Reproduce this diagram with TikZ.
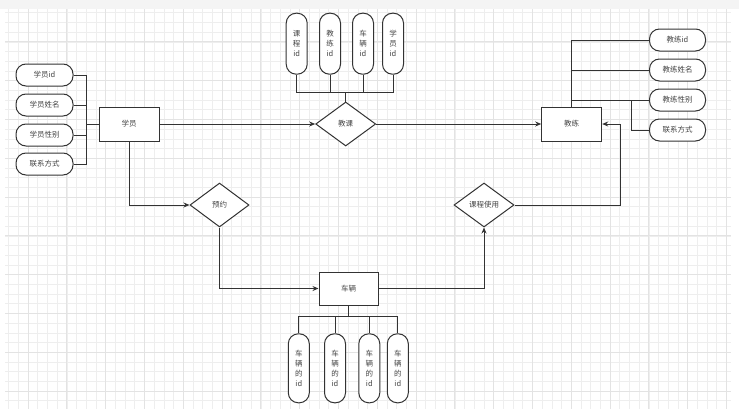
\documentclass[tikz,border=0pt]{standalone}
\usepackage{fontspec}
\setmainfont{Noto Sans CJK SC}
\usetikzlibrary{shapes.geometric,arrows.meta}
\definecolor{ln}{HTML}{333333}
\definecolor{tx}{HTML}{444444}
\definecolor{gmin}{HTML}{EEEEEE}
\definecolor{gmaj}{HTML}{E3E3E3}
\definecolor{band}{HTML}{F4F4F4}
\begin{document}
\begin{tikzpicture}[x=1pt,y=-1pt,
  font=\fontsize{7.5}{10}\selectfont,
  every node/.style={text=tx},
  base/.style={draw=ln,line width=1pt,fill=white,inner sep=0pt},
  attr/.style={base,rounded corners=10pt,minimum width=57pt,minimum height=22pt},
  vattr/.style={base,rounded corners=10pt,minimum width=21pt,align=center},
  entity/.style={base,minimum width=60pt,minimum height=34pt},
  rel/.style={base,diamond,minimum width=60pt,minimum height=44pt},
  conn/.style={draw=ln,line width=1pt},
  arr/.style={conn,-{Stealth[length=6pt,width=5pt]}}]
\useasboundingbox (0,0) rectangle (739,415);
\fill[white] (0,0) rectangle (739,415);
\fill[band] (0,0) rectangle (739,9);
% grid
\foreach \i [evaluate=\i as \x using 8.6+9.7*\i] in {0,...,74}
  \draw[gmin,line width=0.6pt] (\x,9) -- (\x,409);
\foreach \i [evaluate=\i as \y using 12.7+9.7*\i] in {0,...,40}
  \draw[gmin,line width=0.6pt] (5,\y) -- (731,\y);
\foreach \i [evaluate=\i as \x using 8.6+9.7*\i] in {2,6,...,74}
  \draw[gmaj,line width=0.7pt] (\x,9) -- (\x,409);
\foreach \i [evaluate=\i as \y using 12.7+9.7*\i] in {3,7,...,39}
  \draw[gmaj,line width=0.7pt] (5,\y) -- (731,\y);

% entities
\node[entity] (stu) at (129,124) {学员};
\node[entity] (coach) at (571.7,124) {教练};
\node[entity,minimum width=59pt,minimum height=33pt] (car) at (348.5,288.5) {车辆};
% relations
\node[rel,label=center:{教课}] (teach) at (345.7,124) {};
\node[rel,minimum width=59pt,label=center:{预约}] (book) at (219.5,205) {};
\node[rel,label=center:{课程使用}] (use) at (484,205) {};

% student attributes
\node[attr] (sa1) at (44.5,75) {学员id};
\node[attr] (sa2) at (44.5,105) {学员姓名};
\node[attr] (sa3) at (44.5,135) {学员性别};
\node[attr] (sa4) at (44.5,164) {联系方式};
% coach attributes
\node[attr,minimum width=56pt] (ca1) at (677.5,40) {教练id};
\node[attr,minimum width=56pt] (ca2) at (677.5,70) {教练姓名};
\node[attr,minimum width=56pt] (ca3) at (677.5,100) {教练性别};
\node[attr,minimum width=56pt] (ca4) at (677.5,130) {联系方式};
% teaching attributes
\node[vattr,minimum height=61pt] (ta1) at (296.7,43.7) {课\\程\\id};
\node[vattr,minimum height=61pt] (ta2) at (330,43.7) {教\\练\\id};
\node[vattr,minimum height=61pt] (ta3) at (363,43.7) {车\\辆\\id};
\node[vattr,minimum height=61pt] (ta4) at (393,43.7) {学\\员\\id};
% car attributes
\node[vattr,minimum height=69pt] (ba1) at (298.8,368.3) {车\\辆\\的\\id};
\node[vattr,minimum height=69pt] (ba2) at (335,368.3) {车\\辆\\的\\id};
\node[vattr,minimum height=69pt] (ba3) at (369.3,368.3) {车\\辆\\的\\id};
\node[vattr,minimum height=69pt] (ba4) at (397.8,368.3) {车\\辆\\的\\id};

% helper coordinates
\coordinate (busL) at (86,124);
\coordinate (busT) at (345.7,92.3);
\coordinate (busB) at (348.5,316.7);
\coordinate (cR) at (620,205);
\coordinate (cb) at (631,100);
\coordinate (cb2) at (614,100);

% connectors: student attributes
\foreach \n in {sa1,sa2,sa3,sa4}
  \draw[conn] (\n.east) -| (busL);
\draw[conn] (busL) -- (stu.west);
% teaching attributes
\foreach \n in {ta1,ta2,ta3,ta4}
  \draw[conn] (\n.south) |- (busT);
\draw[conn] (busT) -- (teach.north);
% coach attributes
\draw[conn] (coach.north) |- (ca1.west);
\draw[conn] (coach.north) |- (ca2.west);
\draw[conn] (coach.north) |- (ca3.west);
\draw[conn] (ca4.west) -| (cb) -- (cb2);
% car attributes
\draw[conn] (car.south) -- (busB);
\foreach \n in {ba1,ba2,ba3,ba4}
  \draw[conn] (\n.north) |- (busB);

% relations
\draw[arr] (stu.east) -- (teach.west);
\draw[arr] (teach.east) -- (coach.west);
\draw[arr] (stu.south) |- (book.west);
\draw[arr] (book.south) |- (car.west);
\draw[arr] (car.east) -| (use.south);
\draw[arr] (use.east) -- (cR) |- (coach.east);
\end{tikzpicture}
\end{document}
